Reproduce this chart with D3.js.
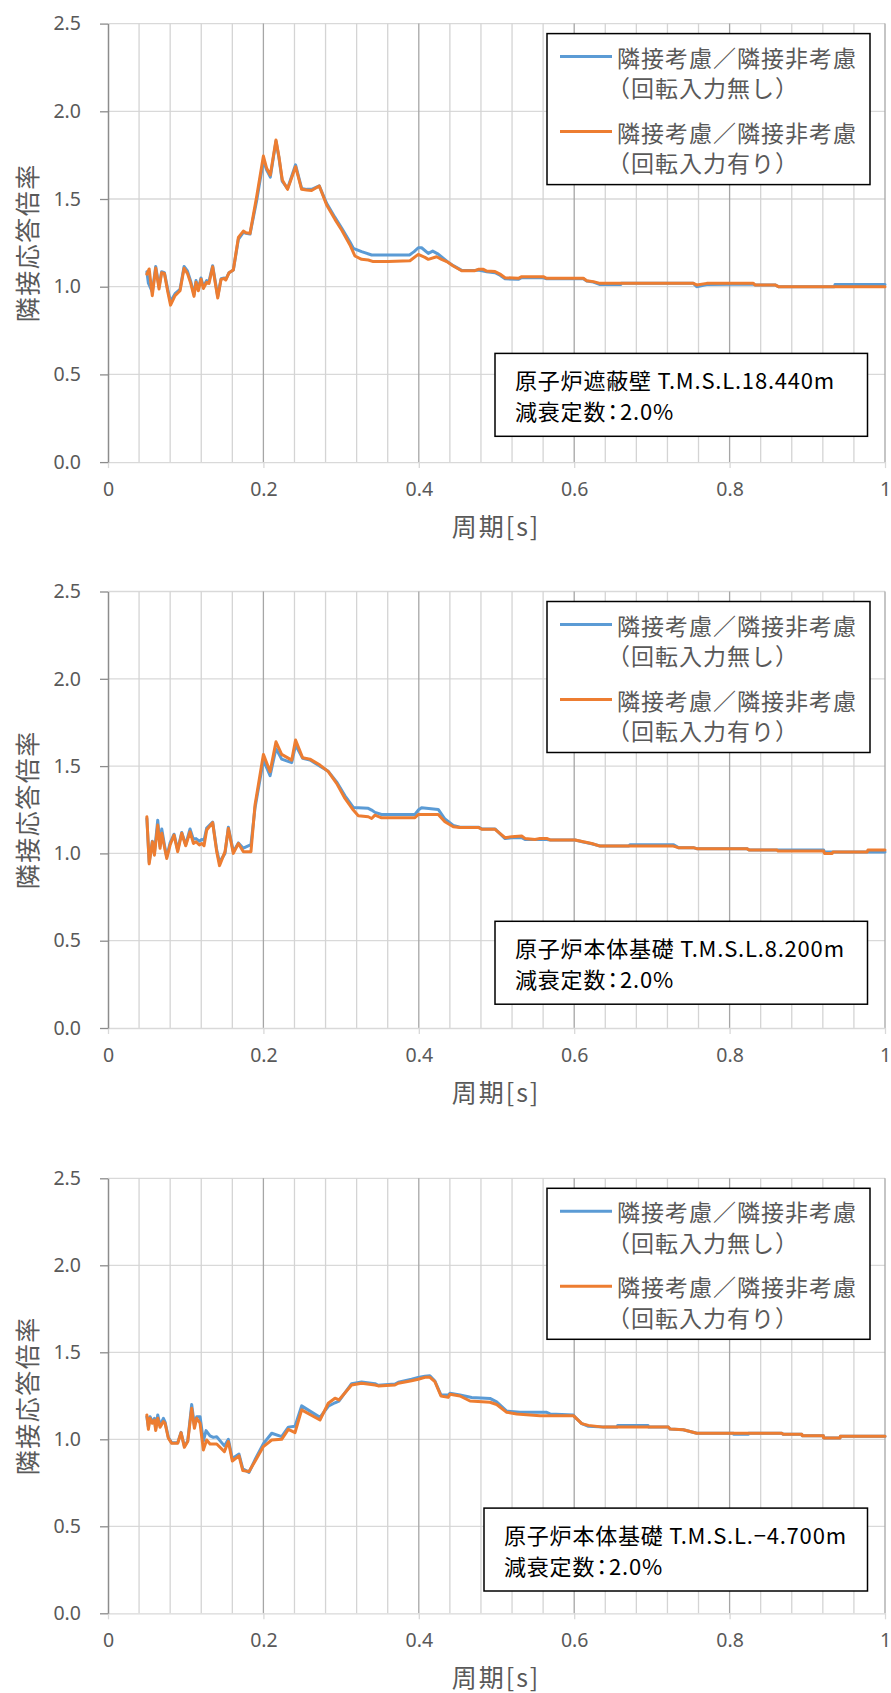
<!DOCTYPE html>
<html><head><meta charset="utf-8">
<script src="https://cdn.jsdelivr.net/npm/d3@7"></script>
<style>
body{margin:0;background:#fff}
svg{display:block}
text{font-family:"Noto Sans CJK JP","Noto Sans",sans-serif}
.palt{font-feature-settings:"palt"}
</style>
</head><body>
<svg id="chart" width="891" height="1693"></svg>
<script>
// ---------- data ----------
const xTicks = [0, 0.2, 0.4, 0.6, 0.8, 1];
const xTickLabels = ["0", "0.2", "0.4", "0.6", "0.8", "1"];
const yTicks = [0, 0.5, 1.0, 1.5, 2.0, 2.5];
const yTickLabels = ["0.0", "0.5", "1.0", "1.5", "2.0", "2.5"];
const xTitle = "周期[s]";
const yTitle = "隣接応答倍率";
const seriesNames = [["隣接考慮／隣接非考慮", "（回転入力無し）"], ["隣接考慮／隣接非考慮", "（回転入力有り）"]];
const chartLabels = [
  ["原子炉遮蔽壁 T.M.S.L.18.440m", "減衰定数", "：", "2.0%"],
  ["原子炉本体基礎 T.M.S.L.8.200m", "減衰定数", "：", "2.0%"],
  ["原子炉本体基礎 T.M.S.L.−4.700m", "減衰定数", "：", "2.0%"]
];

// chart 1 : [period, ratio]
const c1Blue = [[0.05,1.085],[0.052,1.02],[0.057,0.97],[0.0614,1.115],[0.0657,1.0],[0.069,1.085],[0.0726,1.08],[0.0769,0.985],[0.0805,0.915],[0.0863,0.96],[0.0927,0.985],[0.0979,1.115],[0.1022,1.09],[0.1065,1.03],[0.1107,0.955],[0.1133,1.035],[0.1163,0.99],[0.1197,1.05],[0.1227,1.0],[0.127,1.035],[0.13,1.03],[0.1347,1.12],[0.1412,0.945],[0.1455,1.045],[0.1498,1.05],[0.1515,1.042],[0.1558,1.08],[0.1613,1.095],[0.1678,1.27],[0.1742,1.31],[0.1776,1.305],[0.1828,1.3],[0.1913,1.49],[0.2,1.72],[0.2042,1.665],[0.2089,1.625],[0.2162,1.83],[0.22,1.735],[0.2243,1.6],[0.2311,1.56],[0.2414,1.695],[0.2492,1.56],[0.2556,1.555],[0.262,1.555],[0.2719,1.575],[0.2814,1.475],[0.2921,1.395],[0.3007,1.335],[0.3114,1.255],[0.3157,1.219],[0.3264,1.2],[0.3393,1.181],[0.388,1.181],[0.394,1.2],[0.3993,1.222],[0.4036,1.222],[0.4122,1.19],[0.4179,1.203],[0.425,1.186],[0.4293,1.17],[0.436,1.145],[0.4444,1.12],[0.4552,1.093],[0.4723,1.093],[0.4766,1.095],[0.4874,1.085],[0.4981,1.08],[0.5045,1.065],[0.511,1.045],[0.5281,1.042],[0.5324,1.051],[0.5603,1.051],[0.5646,1.045],[0.6118,1.045],[0.6161,1.032],[0.6247,1.026],[0.6333,1.012],[0.66,1.012],[0.6605,1.019],[0.7534,1.019],[0.7577,1.0],[0.7706,1.012],[0.8306,1.015],[0.8327,1.01],[0.8585,1.01],[0.8628,1.0],[0.935,1.0],[0.9357,1.013],[1.0,1.013]];
const c1Orange = [[0.05,1.072],[0.053,1.101],[0.057,0.949],[0.0614,1.106],[0.0657,0.987],[0.069,1.08],[0.0726,1.076],[0.0769,0.971],[0.0805,0.895],[0.0863,0.949],[0.0927,0.977],[0.0979,1.105],[0.1022,1.076],[0.1065,1.019],[0.1107,0.945],[0.1133,1.025],[0.1163,0.977],[0.1197,1.042],[0.1227,0.99],[0.127,1.025],[0.13,1.019],[0.1347,1.114],[0.1412,0.935],[0.1455,1.042],[0.1498,1.047],[0.1515,1.038],[0.1558,1.08],[0.1613,1.095],[0.1678,1.281],[0.1742,1.317],[0.1776,1.308],[0.1828,1.304],[0.1913,1.513],[0.2,1.745],[0.2042,1.675],[0.2089,1.637],[0.2162,1.836],[0.22,1.741],[0.2243,1.608],[0.2311,1.555],[0.2414,1.684],[0.2492,1.555],[0.2556,1.551],[0.262,1.548],[0.2719,1.574],[0.2814,1.466],[0.2921,1.384],[0.3007,1.323],[0.3114,1.238],[0.3178,1.175],[0.3264,1.156],[0.335,1.152],[0.3414,1.143],[0.3607,1.143],[0.3886,1.148],[0.3993,1.184],[0.4079,1.167],[0.4122,1.156],[0.4229,1.171],[0.4293,1.156],[0.436,1.143],[0.4444,1.118],[0.4552,1.091],[0.4723,1.091],[0.4766,1.099],[0.4831,1.099],[0.4874,1.089],[0.4981,1.086],[0.5045,1.072],[0.511,1.051],[0.5281,1.048],[0.5324,1.057],[0.5603,1.057],[0.5646,1.048],[0.6118,1.048],[0.6161,1.034],[0.6247,1.029],[0.6333,1.019],[0.7534,1.019],[0.7577,1.01],[0.7706,1.019],[0.8306,1.019],[0.8327,1.01],[0.8585,1.01],[0.8628,1.0],[1.0,1.0]];

// chart 2
const c2Blue = [[0.05,1.2],[0.053,0.95],[0.0571,1.07],[0.0597,1.0],[0.064,1.19],[0.067,1.04],[0.0692,1.14],[0.0726,1.05],[0.0756,0.98],[0.0799,1.06],[0.085,1.11],[0.0897,1.02],[0.0949,1.12],[0.1,1.05],[0.1056,1.14],[0.1099,1.08],[0.1133,1.085],[0.1176,1.07],[0.1206,1.08],[0.1236,1.075],[0.127,1.145],[0.1347,1.18],[0.1399,1.02],[0.1435,0.95],[0.1506,1.0],[0.1549,1.15],[0.1613,1.01],[0.1678,1.06],[0.1742,1.03],[0.184,1.05],[0.1892,1.26],[0.2,1.535],[0.2086,1.445],[0.2162,1.6],[0.2235,1.54],[0.2364,1.52],[0.2414,1.62],[0.2505,1.545],[0.2599,1.535],[0.2728,1.5],[0.2835,1.47],[0.2942,1.41],[0.305,1.33],[0.3157,1.263],[0.335,1.258],[0.3393,1.248],[0.3436,1.235],[0.352,1.223],[0.395,1.223],[0.3993,1.248],[0.4036,1.261],[0.425,1.252],[0.4336,1.197],[0.4444,1.16],[0.453,1.15],[0.4766,1.15],[0.481,1.14],[0.4981,1.14],[0.511,1.085],[0.5196,1.09],[0.5324,1.09],[0.5367,1.08],[0.5646,1.08],[0.5689,1.077],[0.6011,1.077],[0.6118,1.065],[0.6225,1.055],[0.6333,1.042],[0.67,1.042],[0.672,1.05],[0.728,1.05],[0.734,1.033],[0.7534,1.033],[0.7577,1.027],[0.8221,1.027],[0.825,1.02],[0.921,1.02],[0.922,1.008],[1.0,1.008]];
const c2Orange = [[0.05,1.21],[0.053,0.94],[0.0571,1.067],[0.0597,0.99],[0.064,1.162],[0.067,1.029],[0.0692,1.115],[0.0726,1.038],[0.0756,0.971],[0.0799,1.048],[0.085,1.105],[0.0897,1.01],[0.0949,1.115],[0.1,1.044],[0.1056,1.124],[0.1099,1.057],[0.1133,1.067],[0.1176,1.048],[0.1206,1.057],[0.1236,1.044],[0.127,1.134],[0.1347,1.176],[0.1399,1.01],[0.1435,0.93],[0.1506,1.01],[0.1549,1.143],[0.1613,1.0],[0.1678,1.057],[0.1742,1.01],[0.184,1.01],[0.1892,1.277],[0.2,1.567],[0.2086,1.468],[0.2162,1.639],[0.2235,1.567],[0.2364,1.534],[0.2414,1.649],[0.2505,1.548],[0.2599,1.54],[0.2728,1.506],[0.2835,1.468],[0.2942,1.401],[0.305,1.315],[0.3157,1.248],[0.3221,1.216],[0.335,1.21],[0.3393,1.2],[0.3436,1.219],[0.3521,1.204],[0.395,1.204],[0.3993,1.223],[0.425,1.223],[0.4336,1.181],[0.4444,1.153],[0.453,1.149],[0.4766,1.149],[0.481,1.138],[0.4981,1.138],[0.511,1.09],[0.5196,1.096],[0.5324,1.1],[0.5367,1.086],[0.5496,1.08],[0.556,1.086],[0.5646,1.086],[0.5689,1.077],[0.6011,1.077],[0.6118,1.067],[0.6225,1.057],[0.6333,1.042],[0.7276,1.042],[0.734,1.033],[0.7534,1.033],[0.7577,1.027],[0.8221,1.027],[0.825,1.02],[0.861,1.02],[0.862,1.014],[0.921,1.014],[0.922,1.0],[0.932,1.0],[0.933,1.008],[0.977,1.008],[0.978,1.02],[1.0,1.02]];

// chart 3
const c3Blue = [[0.05,1.13],[0.052,1.07],[0.0541,1.13],[0.0571,1.1],[0.0597,1.12],[0.0614,1.06],[0.064,1.14],[0.067,1.08],[0.0713,1.12],[0.0734,1.1],[0.0777,1.01],[0.082,0.98],[0.0897,0.98],[0.094,1.04],[0.0983,0.96],[0.1026,0.99],[0.1077,1.2],[0.1112,1.08],[0.1142,1.13],[0.1185,1.13],[0.1227,0.99],[0.1262,1.05],[0.1313,1.02],[0.1355,1.011],[0.1399,1.015],[0.1498,0.962],[0.1549,1.0],[0.16,0.89],[0.1686,0.915],[0.1735,0.83],[0.1815,0.81],[0.19,0.89],[0.2,0.975],[0.2107,1.035],[0.2235,1.015],[0.2321,1.07],[0.2407,1.075],[0.2492,1.192],[0.2728,1.126],[0.2835,1.19],[0.2921,1.21],[0.2972,1.22],[0.3135,1.32],[0.3264,1.33],[0.3436,1.32],[0.3478,1.31],[0.3693,1.318],[0.3736,1.328],[0.3907,1.345],[0.3993,1.355],[0.4079,1.362],[0.4143,1.365],[0.4207,1.335],[0.4285,1.255],[0.4379,1.255],[0.4401,1.265],[0.453,1.255],[0.468,1.24],[0.4916,1.235],[0.5002,1.215],[0.5131,1.162],[0.5303,1.155],[0.5646,1.155],[0.5689,1.146],[0.5989,1.14],[0.601,1.127],[0.6097,1.09],[0.6183,1.075],[0.6376,1.07],[0.655,1.07],[0.656,1.08],[0.695,1.08],[0.696,1.07],[0.7213,1.07],[0.7234,1.059],[0.7405,1.055],[0.7577,1.035],[0.8049,1.035],[0.805,1.029],[0.8242,1.029],[0.8245,1.035],[0.8671,1.035],[0.869,1.029],[0.8929,1.029],[0.8935,1.02],[0.9207,1.02],[0.921,1.008],[0.9421,1.008],[0.9425,1.018],[1.0,1.018]];
const c3Orange = [[0.05,1.14],[0.052,1.057],[0.0541,1.121],[0.0571,1.092],[0.0597,1.111],[0.0614,1.05],[0.064,1.121],[0.067,1.069],[0.0713,1.102],[0.0734,1.092],[0.0777,1.006],[0.082,0.977],[0.0897,0.977],[0.094,1.038],[0.0983,0.954],[0.1026,0.987],[0.1077,1.178],[0.1112,1.063],[0.1142,1.121],[0.1185,1.092],[0.1227,0.939],[0.127,0.996],[0.1313,0.973],[0.1399,0.973],[0.1498,0.929],[0.1549,0.987],[0.16,0.875],[0.1686,0.905],[0.1735,0.82],[0.1815,0.815],[0.19,0.88],[0.2,0.958],[0.2107,0.996],[0.2235,1.0],[0.2321,1.057],[0.2407,1.038],[0.2492,1.169],[0.2728,1.111],[0.2835,1.207],[0.2921,1.236],[0.2972,1.226],[0.3135,1.312],[0.3264,1.322],[0.3436,1.312],[0.3478,1.307],[0.3693,1.312],[0.3736,1.322],[0.3907,1.337],[0.3993,1.345],[0.4079,1.356],[0.4143,1.356],[0.4207,1.331],[0.4285,1.249],[0.4379,1.241],[0.4401,1.259],[0.453,1.249],[0.4659,1.22],[0.4916,1.213],[0.5002,1.2],[0.5131,1.155],[0.526,1.146],[0.556,1.136],[0.5989,1.136],[0.601,1.127],[0.6097,1.09],[0.6183,1.08],[0.6376,1.07],[0.7213,1.07],[0.7234,1.059],[0.7405,1.055],[0.7577,1.035],[0.8671,1.035],[0.869,1.029],[0.8929,1.029],[0.8935,1.02],[0.9207,1.02],[0.921,1.008],[0.9421,1.008],[0.9425,1.018],[1.0,1.018]];

const chartData = [[c1Blue, c1Orange], [c2Blue, c2Orange], [c3Blue, c3Orange]];

// ---------- layout / style ----------
const colors = ["#5B9BD5", "#ED7D31"];
const plotLeft = 108, plotRight = 885;
const plotTops = [23.6, 591.5, 1178.3];
const plotBottoms = [462.1, 1028, 1613.3];
const annotLeft = [495, 495, 484];

const svg = d3.select("#chart");
svg.append("rect").attr("width", 891).attr("height", 1693).attr("fill", "#fff");

chartData.forEach((series, i) => {
  const top = plotTops[i], bottom = plotBottoms[i];
  const x = d3.scaleLinear().domain([0, 1]).range([plotLeft, plotRight]);
  const y = d3.scaleLinear().domain([0, 2.5]).range([bottom, top]);
  const g = svg.append("g");

  // horizontal gridlines
  g.append("g").selectAll("line").data(yTicks.slice(1)).join("line")
    .attr("x1", plotLeft).attr("x2", plotRight)
    .attr("y1", d => y(d)).attr("y2", d => y(d))
    .attr("stroke", "#D9D9D9").attr("stroke-width", 1.3);

  // vertical gridlines (minor every 0.04, major every 0.2)
  const vx = d3.range(1, 26).map(k => k * 0.04);
  g.append("g").selectAll("line").data(vx).join("line")
    .attr("x1", d => x(d)).attr("x2", d => x(d))
    .attr("y1", top).attr("y2", bottom)
    .attr("stroke", (d, k) => ((k + 1) % 5 === 0) ? "#A6A6A6" : "#D4D4D4")
    .attr("stroke-width", 1.3);

  // x axis
  const xAxis = d3.axisBottom(x).tickValues(xTicks)
    .tickFormat((d, k) => xTickLabels[k]).tickSize(6).tickSizeOuter(0).tickPadding(14);
  const xg = g.append("g").attr("transform", `translate(0,${bottom})`).call(xAxis);
  xg.select(".domain").attr("stroke", "#D9D9D9").attr("stroke-width", 1.3);
  xg.selectAll(".tick line").attr("stroke", "#D9D9D9").attr("stroke-width", 1.3);
  xg.selectAll(".tick text").attr("fill", "#595959").attr("font-size", 19.5)
    .style("font-family", '"Noto Sans", sans-serif');

  // y axis
  const yAxis = d3.axisLeft(y).tickValues(yTicks)
    .tickFormat((d, k) => yTickLabels[k]).tickSize(8).tickSizeOuter(0).tickPadding(19);
  const yg = g.append("g").attr("transform", `translate(${plotLeft},0)`).call(yAxis);
  yg.select(".domain").attr("stroke", "#8C8C8C").attr("stroke-width", 1.5);
  yg.selectAll(".tick line").attr("stroke", "#8C8C8C").attr("stroke-width", 1.3);
  yg.selectAll(".tick text").attr("fill", "#595959").attr("font-size", 19.5)
    .style("font-family", '"Noto Sans", sans-serif');

  // axis titles
  g.append("text").attr("x", 496).attr("y", bottom + 63)
    .attr("text-anchor", "middle").attr("dominant-baseline", "central")
    .attr("fill", "#595959").attr("font-size", 25).attr("letter-spacing", 2).text(xTitle);
  g.append("text")
    .attr("transform", `translate(26,${(top + bottom) / 2}) rotate(-90)`)
    .attr("text-anchor", "middle").attr("dominant-baseline", "central")
    .attr("fill", "#595959").attr("font-size", 25).attr("letter-spacing", 1.5).text(yTitle);

  // lines
  const line = d3.line().x(d => x(d[0])).y(d => y(d[1]));
  series.forEach((s, k) => {
    g.append("path").datum(s).attr("d", line)
      .attr("fill", "none").attr("stroke", colors[k]).attr("stroke-width", 3)
      .attr("stroke-linejoin", "round").attr("stroke-linecap", "round");
  });

  // legend
  const lg = g.append("g");
  lg.append("rect").attr("x", 547).attr("y", top + 10).attr("width", 323).attr("height", 151)
    .attr("fill", "#fff").attr("stroke", "#000").attr("stroke-width", 1.5);
  seriesNames.forEach((names, k) => {
    const ly = top + 33 + k * 75;
    lg.append("line").attr("x1", 560).attr("x2", 612).attr("y1", ly).attr("y2", ly)
      .attr("stroke", colors[k]).attr("stroke-width", 3);
    names.forEach((t, j) => {
      lg.append("text").attr("x", j === 0 ? 617 : 607).attr("y", ly + j * 30.5)
        .attr("dominant-baseline", "central").attr("fill", "#595959")
        .attr("font-size", 23).attr("letter-spacing", 1).text(t);
    });
  });

  // annotation
  const ag = g.append("g");
  const aTop = top + 329.8, aBot = top + 412.7;
  ag.append("rect").attr("x", annotLeft[i]).attr("y", aTop)
    .attr("width", 867.5 - annotLeft[i]).attr("height", aBot - aTop)
    .attr("fill", "#fff").attr("stroke", "#000").attr("stroke-width", 1.5);
  const lab = chartLabels[i];
  ag.append("text").attr("x", annotLeft[i] + 20).attr("y", top + 355.5)
    .attr("dominant-baseline", "central").attr("fill", "#000")
    .attr("font-size", 22).attr("letter-spacing", 0.8).text(lab[0]);
  const t2 = ag.append("text").attr("x", annotLeft[i] + 20).attr("y", top + 386.8)
    .attr("dominant-baseline", "central").attr("fill", "#000")
    .attr("font-size", 22).attr("letter-spacing", 0.8);
  t2.append("tspan").text(lab[1]);
  t2.append("tspan").attr("class", "palt").attr("dx", 1).text(lab[2]);
  t2.append("tspan").attr("dx", 1).text(lab[3]);
});
</script>
</body></html>
